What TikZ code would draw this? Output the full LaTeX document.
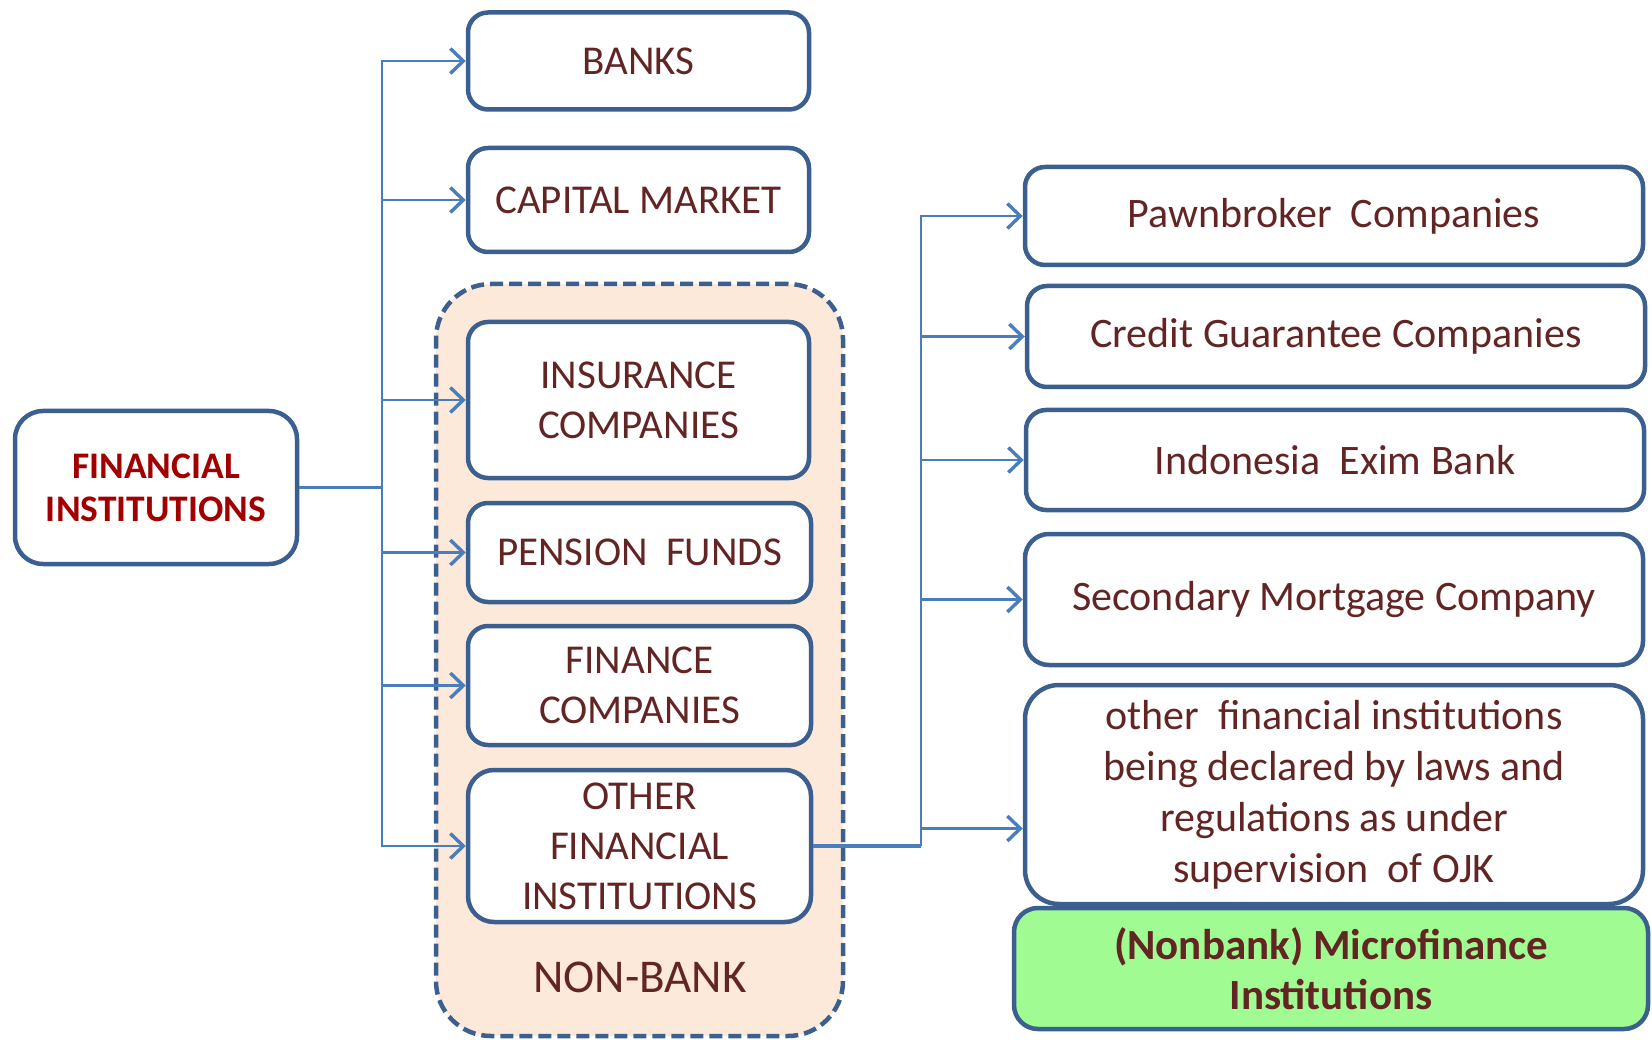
\documentclass[tikz,border=0pt]{standalone}
\usepackage{fontspec}
\setmainfont{Carlito}
\usetikzlibrary{arrows.meta}

\definecolor{boxline}{HTML}{3B5F8E}
\definecolor{linkline}{HTML}{4A7EBB}
\definecolor{labeltxt}{HTML}{632523}
\definecolor{headtxt}{HTML}{A20000}
\definecolor{nonbankfill}{HTML}{FDE9D9}
\definecolor{microfill}{HTML}{A0FC92}

\begin{document}
\begin{tikzpicture}[x=1pt,y=-1pt,
  card/.style={draw=boxline, line width=4.5pt, rounded corners=20pt, fill=white,
    text=labeltxt, align=center, inner sep=0pt,
    font=\fontsize{41}{50}\selectfont},
  rcard/.style={card, minimum width=618pt, font=\fontsize{42}{51}\selectfont},
  link/.style={draw=linkline, line width=2.8pt},
  arr/.style={link, -{Straight Barb[length=13pt,width=25pt,line width=3.4pt]}},
]
\useasboundingbox (0,0) rectangle (1652,1040);

% non-bank group
\node[draw=boxline, line width=4.5pt, dash pattern=on 13pt off 6pt, fill=nonbankfill,
      rounded corners=55pt, minimum width=407pt, minimum height=752pt] (nb) at (639.5,660) {};
\node[text=labeltxt, font=\fontsize{47}{50}\selectfont] (nbl) at (640,977) {NON-BANK};

% root
\node[card, minimum width=282pt, minimum height=153pt, rounded corners=28pt,
      text=headtxt, font=\bfseries\fontsize{37.5}{43}\selectfont] (fi) at (156,487.5) {FINANCIAL\\INSTITUTIONS};

% middle column
\node[card, minimum width=341pt, minimum height=97pt]  (banks) at (638.5,61)    {BANKS};
\node[card, minimum width=341pt, minimum height=104pt] (cap)   at (638.5,200)   {CAPITAL MARKET};
\node[card, minimum width=341pt, minimum height=156pt] (ins)   at (638.5,400)   {INSURANCE\\COMPANIES};
\node[card, minimum width=343pt, minimum height=99pt]  (pen)   at (639.5,552.5) {PENSION~ FUNDS};
\node[card, minimum width=343pt, minimum height=119pt] (fin)   at (639.5,685.5) {FINANCE\\COMPANIES};
\node[card, minimum width=343pt, minimum height=152pt, rounded corners=26pt] (ofi) at (639.5,846) {OTHER\\FINANCIAL\\INSTITUTIONS};

% right column
\node[rcard, minimum height=98pt]  (pawn)  at (1334,216)   {Pawnbroker~ Companies};
\node[rcard, minimum height=101pt] (cred)  at (1336,336.5) {Credit Guarantee Companies};
\node[rcard, minimum height=100pt] (exim)  at (1335,460)   {Indonesia~ Exim Bank};
\node[rcard, minimum height=131pt, rounded corners=24pt] (sec) at (1334,599.5) {Secondary Mortgage Company};
\node[rcard, minimum height=219pt, rounded corners=34pt] (oth) at (1334,794.5)
  {other~ financial institutions\\being declared by laws and\\regulations as under\\supervision~ of OJK};
\node[rcard, minimum width=634pt, minimum height=121pt, fill=microfill, rounded corners=24pt,
      font=\bfseries\fontsize{43}{50}\selectfont] (micro) at (1331,968.5) {(Nonbank) Microfinance\\Institutions};

% connectors from the root
\coordinate (j1) at (382,487.5);
\draw[link] (fi.east) -- (j1);
\draw[arr] (j1) |- (banks.west);
\draw[arr] (j1) |- (cap.west);
\draw[arr] (j1) |- (ins.west);
\draw[arr] (j1) |- (pen.west);
\draw[arr] (j1) |- (fin.west);
\draw[arr] (j1) |- (ofi.west);

% connectors from other financial institutions
\coordinate (j2) at (921,846);
\draw[link, line width=3.4pt] (ofi.east) -- (j2);
\draw[arr] (j2) |- (pawn.west);
\draw[arr] (j2) |- (cred.west);
\draw[arr] (j2) |- (exim.west);
\draw[arr] (j2) |- (sec.west);
\draw[arr] (j2) |- ([yshift=-34pt]oth.west);
\end{tikzpicture}
\end{document}
